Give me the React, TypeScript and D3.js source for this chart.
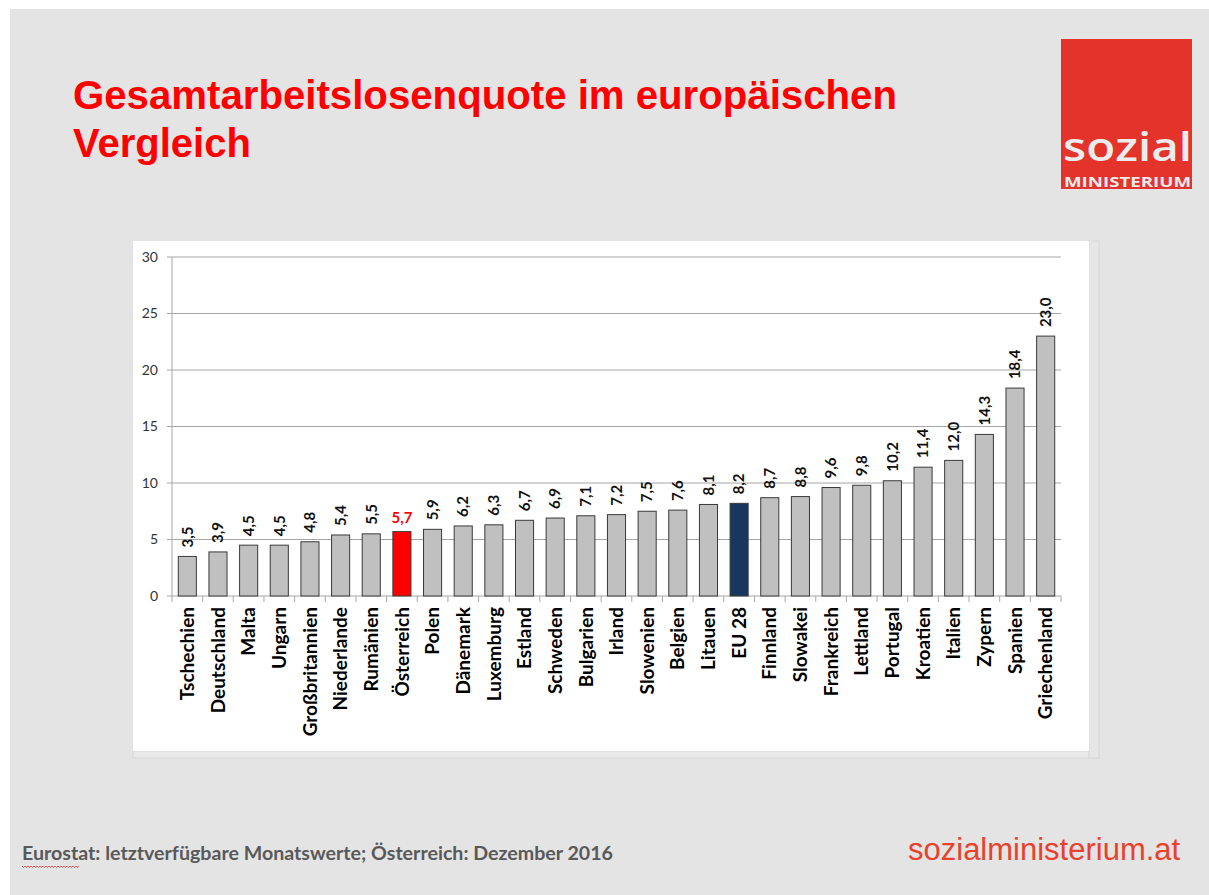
import React from "react";
import * as d3 from "d3";

const categories = [
  "Tschechien", "Deutschland", "Malta", "Ungarn", "Großbritannien", "Niederlande",
  "Rumänien", "Österreich", "Polen", "Dänemark", "Luxemburg", "Estland", "Schweden",
  "Bulgarien", "Irland", "Slowenien", "Belgien", "Litauen", "EU 28", "Finnland",
  "Slowakei", "Frankreich", "Lettland", "Portugal", "Kroatien", "Italien", "Zypern",
  "Spanien", "Griechenland",
];
const values = [
  3.5, 3.9, 4.5, 4.5, 4.8, 5.4, 5.5, 5.7, 5.9, 6.2, 6.3, 6.7, 6.9, 7.1, 7.2, 7.5, 7.6,
  8.1, 8.2, 8.7, 8.8, 9.6, 9.8, 10.2, 11.4, 12.0, 14.3, 18.4, 23.0,
];
const yTicks = [0, 5, 10, 15, 20, 25, 30];
const highlightAustria = "Österreich";
const highlightEU = "EU 28";

const titleLines = ["Gesamtarbeitslosenquote im europäischen", "Vergleich"];
const sourceText = "Eurostat: letztverfügbare Monatswerte; Österreich: Dezember 2016";
const urlText = "sozialministerium.at";

const fmt = (v: number) => v.toFixed(1).replace(".", ",");

export default function App() {
  const W = 1209, H = 895;
  const plotLeft = 172, plotRight = 1061, plotTop = 257, plotBottom = 596;
  const x = d3.scaleBand<string>().domain(categories).range([plotLeft, plotRight]).padding(0);
  const y = d3.scaleLinear().domain([0, 30]).range([plotBottom, plotTop]);
  const bw = x.bandwidth() * 0.59;
  const labelFont = "Lato, 'Open Sans', sans-serif";

  // squiggle under "Eurostat"
  const sq: [number, number][] = d3.range(0, 58, 1.5).map((t, i) => [22 + t, 866 + (i % 2 === 0 ? 0 : 1.5)]);
  const sqPath = d3.line()(sq) || "";

  return (
    <svg width={W} height={H} style={{ position: "absolute", left: 0, top: 0, background: "#fff" }}>
      <rect x={10} y={9} width={W - 10} height={H - 9} fill="#e4e4e4" />

      {/* title */}
      {titleLines.map((t, i) => (
        <text key={t} x={73} y={109 + i * 48} fill="#ff0000" fontFamily="'Liberation Sans', Arial, sans-serif"
          fontWeight="bold" fontSize={40} textLength={i === 0 ? 824 : undefined}
          lengthAdjust={i === 0 ? "spacingAndGlyphs" : undefined}>{t}</text>
      ))}

      {/* logo */}
      <rect x={1061} y={39} width={131} height={150} fill="#e3332a" />
      <text x={1063} y={161} fill="#ececec" fontFamily="'Open Sans', sans-serif" fontWeight={600}
        fontSize={40} textLength={129} lengthAdjust="spacingAndGlyphs">sozial</text>
      <text x={1064} y={187} fill="#ececec" fontFamily="'Open Sans', sans-serif" fontWeight={700}
        fontSize={14} textLength={127} lengthAdjust="spacingAndGlyphs">MINISTERIUM</text>

      {/* chart panel */}
      <rect x={133} y={751} width={966} height={7} fill="#e9e9e9" stroke="#d8d8d8" strokeWidth={1} />
      <rect x={1089} y={241} width={10} height={517} fill="#e6e6e6" stroke="#d8d8d8" strokeWidth={1} />
      <rect x={133} y={241} width={956} height={510} fill="#ffffff" />

      {/* gridlines and y labels */}
      {yTicks.map((t) => (
        <g key={t}>
          <line x1={167} x2={plotRight} y1={y(t)} y2={y(t)} stroke="#a6a6a6" strokeWidth={1} />
          <text x={158} y={y(t)} dy="0.35em" textAnchor="end" fontFamily={labelFont} fontSize={14} fill="#333">{t}</text>
        </g>
      ))}
      <line x1={plotLeft} x2={plotLeft} y1={plotTop} y2={plotBottom + 6} stroke="#a6a6a6" strokeWidth={1} />
      {categories.map((c) => (
        <line key={"t" + c} x1={(x(c) as number) + x.bandwidth()} x2={(x(c) as number) + x.bandwidth()}
          y1={plotBottom} y2={plotBottom + 6} stroke="#a6a6a6" strokeWidth={1} />
      ))}

      {/* bars */}
      {categories.map((c, i) => {
        const cx = (x(c) as number) + x.bandwidth() / 2;
        const v = values[i];
        const fill = c === highlightAustria ? "#ff0000" : c === highlightEU ? "#17375e" : "#c0c0c0";
        return (
          <rect key={"b" + c} x={cx - bw / 2} y={y(v)} width={bw} height={plotBottom - y(v)}
            fill={fill} stroke="#3a3a3a" strokeWidth={1} />
        );
      })}

      {/* value labels */}
      {categories.map((c, i) => {
        const cx = (x(c) as number) + x.bandwidth() / 2;
        const v = values[i];
        if (c === highlightAustria) {
          return (
            <text key={"v" + c} x={cx} y={y(v) - 9} textAnchor="middle" fontFamily={labelFont}
              fontWeight="bold" fontSize={15} fill="#ff0000">{fmt(v)}</text>
          );
        }
        return (
          <text key={"v" + c} transform={`translate(${cx},${y(v) - 9}) rotate(-90)`} dy="0.35em"
            fontFamily={labelFont} fontWeight="bold" fontSize={15} fill="#111">{fmt(v)}</text>
        );
      })}

      {/* category labels */}
      {categories.map((c) => {
        const cx = (x(c) as number) + x.bandwidth() / 2;
        return (
          <text key={"c" + c} transform={`translate(${cx},${plotBottom + 11}) rotate(-90)`} dy="0.35em"
            textAnchor="end" fontFamily={labelFont} fontWeight="bold" fontSize={19} fill="#000">{c}</text>
        );
      })}

      {/* footer */}
      <text x={22} y={860} fontFamily={labelFont} fontWeight="bold" fontSize={18} fill="#595959"
        textLength={591} lengthAdjust="spacingAndGlyphs">{sourceText}</text>
      <path d={sqPath} fill="none" stroke="#e03030" strokeWidth={0.8} />
      <text x={908} y={860} fontFamily="'Liberation Sans', Arial, sans-serif" fontSize={31} fill="#e8412c">{urlText}</text>
    </svg>
  );
}
